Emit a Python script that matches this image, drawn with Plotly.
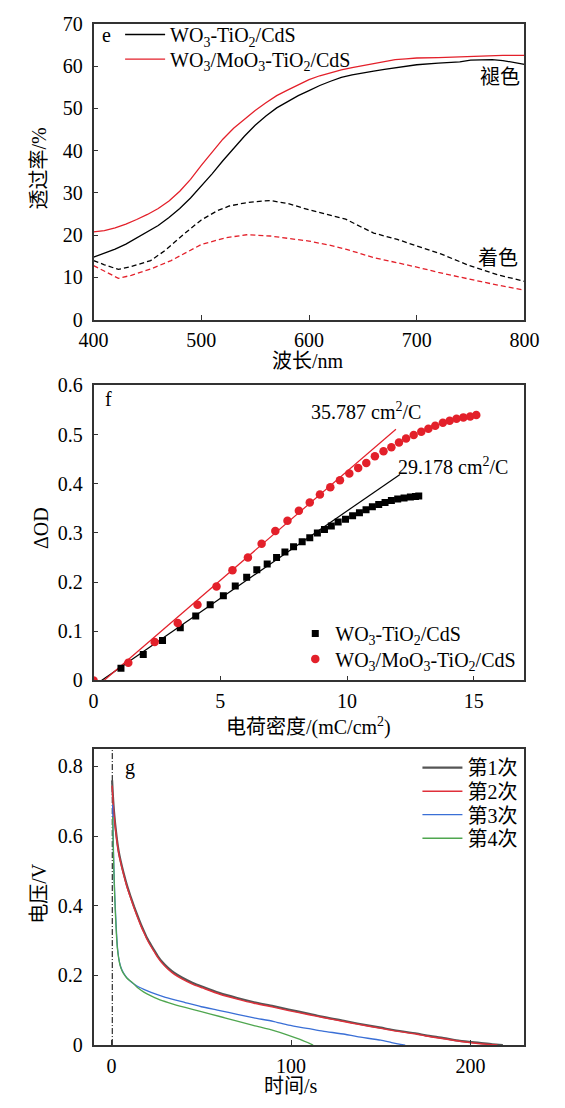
import plotly.graph_objects as go

# ---------------- Panel e data ----------------
e_wl_black_bleach = [400,410,420,430,440,450,460,470,480,490,500,510,520,530,540,550,560,570,580,590,600,610,620,630,640,650,660,670,680,690,700,720,740,750,760,770,780,790,800]
e_T_black_bleach = [14.8,15.7,16.7,17.9,19.3,20.8,22.3,24.2,26.3,28.8,31.6,34.5,37.6,40.6,43.4,46.0,48.2,50.1,51.6,53.0,54.2,55.4,56.4,57.3,57.9,58.4,58.8,59.2,59.6,59.9,60.3,60.7,61.0,61.4,61.5,61.5,61.3,60.9,60.4]
e_wl_red_bleach = [400,410,420,430,440,450,460,470,480,490,500,510,520,530,540,550,560,570,580,590,600,610,620,630,640,650,660,670,680,690,700,720,740,760,780,800]
e_T_red_bleach = [20.8,21.1,21.7,22.6,23.7,24.9,26.3,28.1,30.4,33.2,36.5,39.6,42.7,45.3,47.5,49.5,51.3,53.0,54.3,55.6,56.8,57.7,58.4,59.1,59.6,60.1,60.6,61.0,61.5,61.7,61.9,62.0,62.2,62.4,62.5,62.5]
e_wl_black_color = [400,410,423,435,453,466,485,500,515,526,540,549,564,580,600,620,634,648,660,682,701,723,749,777,800]
e_T_black_color = [14.0,13.0,11.9,12.6,14.0,16.3,20.5,23.6,25.8,26.9,27.6,27.9,28.2,27.5,26.0,24.8,23.8,22.0,20.5,19.0,17.4,15.5,12.8,10.5,9.1]
e_wl_red_color = [400,410,423,435,453,472,490,500,523,542,564,582,600,620,634,660,680,701,720,739,760,777,800]
e_T_red_color = [12.8,11.5,9.8,10.5,12.0,14.0,16.5,17.8,19.4,20.1,19.8,19.2,18.6,17.6,16.7,14.7,13.6,12.4,11.2,10.1,9.0,8.1,7.0]

# ---------------- Panel f data ----------------
f_q_black = [1.08,1.96,2.72,3.42,4.03,4.60,5.12,5.59,6.04,6.44,6.85,7.22,7.55,7.89,8.23,8.53,8.83,9.11,9.38,9.65,9.94,10.22,10.49,10.75,11.0,11.25,11.5,11.75,12.0,12.25,12.5,12.7,12.83]
f_od_black = [0.025,0.053,0.081,0.107,0.131,0.154,0.172,0.192,0.210,0.225,0.237,0.250,0.261,0.272,0.282,0.290,0.300,0.307,0.314,0.322,0.328,0.335,0.341,0.347,0.353,0.358,0.362,0.366,0.369,0.371,0.373,0.374,0.375]
f_q_red = [0.0,1.37,2.41,3.32,4.10,4.85,5.48,6.09,6.63,7.17,7.65,8.10,8.53,8.93,9.34,9.72,10.09,10.44,10.76,11.10,11.44,11.75,12.05,12.33,12.63,12.93,13.21,13.48,13.78,14.05,14.32,14.59,14.86,15.10]
f_od_red = [0.0,0.036,0.078,0.117,0.154,0.191,0.224,0.250,0.278,0.304,0.325,0.345,0.362,0.378,0.393,0.407,0.421,0.432,0.442,0.456,0.466,0.474,0.484,0.492,0.499,0.506,0.512,0.518,0.524,0.528,0.532,0.535,0.537,0.540]
# linear fits: [start, end] of charge density and fitted ΔOD
f_fit_black_q = [0.31, 12.09]
f_fit_black_od = [0.0, 0.419]
f_fit_red_q = [0.41, 11.93]
f_fit_red_od = [0.0, 0.511]

# ---------------- Panel g data ----------------
g_t1 = [0.3,0.7,1.2,2,3,4,5,6.7,8.5,10.5,12.5,14.4,16.3,18.2,20,22,24,25.8,28,31.6,35,39.2,45,50.7,60.3,70,79.4,90,98.6,110,117.7,130,136.8,150,156,170,175,185,194,205,212,218]
g_v1 = [0.76,0.72,0.68,0.635,0.59,0.555,0.53,0.494,0.46,0.428,0.398,0.372,0.347,0.325,0.305,0.287,0.27,0.255,0.24,0.221,0.207,0.194,0.179,0.167,0.149,0.135,0.123,0.112,0.102,0.09,0.081,0.069,0.062,0.05,0.044,0.033,0.028,0.02,0.012,0.006,0.002,0.0]
g_t2 = [0.3,0.7,1.2,2,3,4,5,6.7,8.5,10.5,12.5,14.4,16.3,18.2,20,22,24,25.8,28,31.6,35,39.2,45,50.7,60.3,70,79.4,90,98.6,110,117.7,130,136.8,150,156,170,175,185,194,203,210,215]
g_v2 = [0.745,0.71,0.672,0.628,0.585,0.551,0.526,0.49,0.456,0.424,0.394,0.368,0.343,0.321,0.301,0.283,0.266,0.251,0.236,0.217,0.203,0.19,0.175,0.164,0.146,0.132,0.12,0.109,0.099,0.087,0.079,0.067,0.06,0.048,0.042,0.031,0.026,0.018,0.011,0.005,0.002,0.0]
g_t3 = [0.6,0.9,1.3,1.8,2.3,2.8,3.3,4,4.8,5.7,6.7,8.6,11.5,14.4,18,22,30,41,50,60.3,70,79.4,90,98.6,110,117.7,130,136.8,150,156,161,163.6]
g_v3 = [0.69,0.6,0.51,0.43,0.372,0.32,0.28,0.25,0.23,0.217,0.207,0.193,0.179,0.169,0.16,0.151,0.137,0.122,0.11,0.099,0.088,0.078,0.068,0.057,0.047,0.04,0.031,0.024,0.014,0.007,0.002,0.0]
g_t4 = [0.6,0.9,1.3,1.8,2.3,2.8,3.3,4,4.8,5.7,6.7,8.6,11.5,14.4,18,22,26,31.6,36,41,50,60.3,70,79.4,90,98.6,105,112.3]
g_v4 = [0.655,0.58,0.5,0.42,0.36,0.31,0.275,0.248,0.228,0.215,0.205,0.192,0.18,0.165,0.152,0.141,0.132,0.122,0.115,0.108,0.096,0.082,0.069,0.056,0.042,0.028,0.016,0.0]
g_marker_t = [0.4, 0.4]
g_marker_v = [0.0, 0.85]

names_e = ["WO<sub>3</sub>-TiO<sub>2</sub>/CdS", "WO<sub>3</sub>/MoO<sub>3</sub>-TiO<sub>2</sub>/CdS"]
names_g = ["第1次", "第2次", "第3次", "第4次"]

RED = "#e3202a"
FONT = "Liberation Serif, Noto Sans CJK SC, serif"
FS = 20
W, H = 565, 1108

def px(x):
    return x / W

def py(y):
    return 1 - y / H

fig = go.Figure()

# Panel e
fig.add_trace(go.Scatter(x=e_wl_black_bleach, y=e_T_black_bleach, mode="lines", name=names_e[0],
                         line=dict(color="black", width=1.3), xaxis="x", yaxis="y", legend="legend"))
fig.add_trace(go.Scatter(x=e_wl_red_bleach, y=e_T_red_bleach, mode="lines", name=names_e[1],
                         line=dict(color=RED, width=1.3), xaxis="x", yaxis="y", legend="legend4"))
fig.add_trace(go.Scatter(x=e_wl_black_color, y=e_T_black_color, mode="lines", showlegend=False,
                         line=dict(color="black", width=1.3, dash="5px,3px"), xaxis="x", yaxis="y"))
fig.add_trace(go.Scatter(x=e_wl_red_color, y=e_T_red_color, mode="lines", showlegend=False,
                         line=dict(color=RED, width=1.3, dash="5px,3px"), xaxis="x", yaxis="y"))

# Panel f
fig.add_trace(go.Scatter(x=f_fit_black_q, y=f_fit_black_od, mode="lines", showlegend=False,
                         line=dict(color="black", width=1.2), xaxis="x2", yaxis="y2"))
fig.add_trace(go.Scatter(x=f_fit_red_q, y=f_fit_red_od, mode="lines", showlegend=False,
                         line=dict(color=RED, width=1.2), xaxis="x2", yaxis="y2"))
fig.add_trace(go.Scatter(x=f_q_black, y=f_od_black, mode="markers", name=names_e[0],
                         marker=dict(symbol="square", size=7, color="black"),
                         xaxis="x2", yaxis="y2", legend="legend2"))
fig.add_trace(go.Scatter(x=f_q_red, y=f_od_red, mode="markers", name=names_e[1],
                         marker=dict(symbol="circle", size=8.5, color=RED),
                         xaxis="x2", yaxis="y2", legend="legend5"))

# Panel g
fig.add_trace(go.Scatter(x=g_marker_t, y=g_marker_v, mode="lines", showlegend=False,
                         line=dict(color="black", width=1, dash="6px,2px,1px,2px"), xaxis="x3", yaxis="y3"))
g_colors = ["#555555", "#e0303a", "#3a6fd6", "#4fa64f"]
g_widths = [2.2, 1.4, 1.3, 1.3]
g_legends = ["legend3", "legend6", "legend7", "legend8"]
for t, v, nm, c, w, lg in zip([g_t1, g_t2, g_t3, g_t4], [g_v1, g_v2, g_v3, g_v4], names_g, g_colors, g_widths, g_legends):
    fig.add_trace(go.Scatter(x=t, y=v, mode="lines", name=nm, line=dict(color=c, width=w, shape="spline", smoothing=0.6),
                             xaxis="x3", yaxis="y3", legend=lg))

XD = [px(83), px(538)]
axis_common = dict(showline=True, linecolor="#333333", linewidth=1.5, mirror=True, ticks="inside",
                   ticklen=5, tickwidth=1.2, tickcolor="#333333", showgrid=False, zeroline=False,
                   tickfont=dict(family=FONT, size=FS, color="black"))
xax = dict(axis_common, ticklabelstandoff=2)
yax = dict(axis_common, ticklabelstandoff=5)

def leg(x, y, iw):
    return dict(x=px(x), y=py(y), xanchor="left", yanchor="middle", bgcolor="rgba(0,0,0,0)",
                borderwidth=0, font=dict(family=FONT, size=FS, color="black"), itemwidth=iw)

fig.update_layout(
    width=W, height=H, margin=dict(l=0, r=0, t=0, b=0), paper_bgcolor="white", plot_bgcolor="white",
    font=dict(family=FONT, size=FS, color="black"),
    xaxis=dict(xax, domain=XD, anchor="y", range=[400, 800], tickvals=[400, 500, 600, 700, 800]),
    yaxis=dict(yax, domain=[py(315), py(13)], anchor="x", range=[0, 70], tickvals=[0, 10, 20, 30, 40, 50, 60, 70]),
    xaxis2=dict(xax, domain=XD, anchor="y2", range=[0, 17], tickvals=[0, 5, 10, 15]),
    yaxis2=dict(yax, domain=[py(683), py(382)], anchor="x2", range=[0, 0.6], tickvals=[0, 0.1, 0.2, 0.3, 0.4, 0.5, 0.6],
                ticktext=["0", "0.1", "0.2", "0.3", "0.4", "0.5", "0.6"]),
    xaxis3=dict(xax, domain=XD, anchor="y3", range=[-10, 230], tickvals=[0, 100, 200]),
    yaxis3=dict(yax, domain=[py(1055), py(753)], anchor="x3", range=[0, 0.85], tickvals=[0, 0.2, 0.4, 0.6, 0.8],
                ticktext=["0", "0.2", "0.4", "0.6", "0.8"]),
    legend=leg(111, 24, 40),
    legend4=leg(111, 49, 40),
    legend2=leg(296, 635, 30),
    legend5=leg(296, 661, 30),
    legend3=leg(425, 772, 40),
    legend6=leg(425, 796, 40),
    legend7=leg(425, 820, 40),
    legend8=leg(425, 844, 40),
)

def ann(text, x, y, size=FS, angle=0):
    fig.add_annotation(text=text, x=px(x), y=py(y), xref="paper", yref="paper", showarrow=False,
                       xanchor="center", yanchor="middle", textangle=angle,
                       font=dict(family=FONT, size=size, color="black"))

ann("e", 97, 24)
ann("褪色", 512, 67)
ann("着色", 510, 252)
ann("波长/nm", 309, 357)
ann("透过率/%", 25, 161, angle=-90)
ann("f", 99, 396)
ann("35.787 cm<sup>2</sup>/C", 371, 408)
ann("29.178 cm<sup>2</sup>/C", 463, 464)
ann("电荷密度/(mC/cm<sup>2</sup>)", 310, 730)
ann("ΔOD", 27, 528, angle=-90)
ann("g", 121, 772)
ann("时间/s", 292, 1097)
ann("电压/V", 25, 900, angle=-90)

fig.write_html("out.html")
